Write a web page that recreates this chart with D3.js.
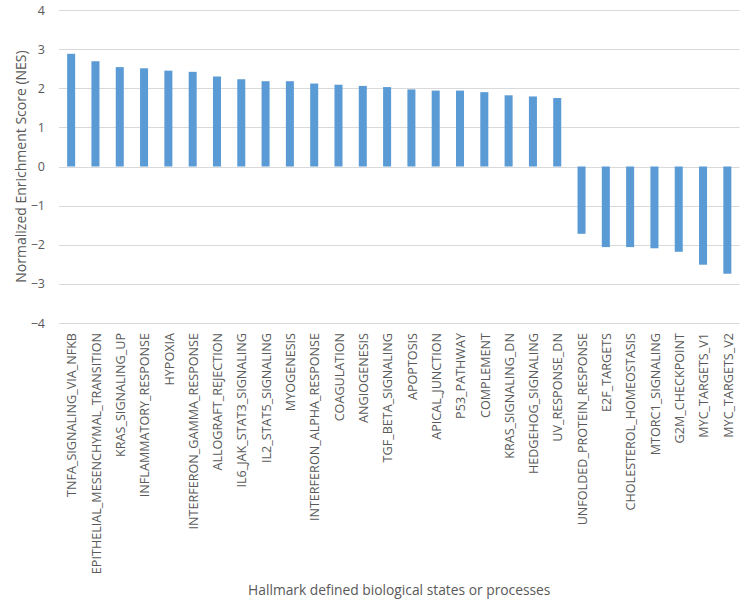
<!DOCTYPE html>
<html>
<head>
<meta charset="utf-8">
<script src="https://cdn.jsdelivr.net/npm/d3@7"></script>
<style>
  html, body { margin: 0; padding: 0; background: #fff; }
  svg { display: block; }
  text { font-family: "Open Sans", "Noto Sans", sans-serif; fill: #595959; }
</style>
</head>
<body>
<svg id="chart" width="742" height="608"></svg>
<script>
// Hallmark gene sets and their normalized enrichment scores
const pathways = [
  "TNFA_SIGNALING_VIA_NFKB", "EPITHELIAL_MESENCHYMAL_TRANSITION", "KRAS_SIGNALING_UP",
  "INFLAMMATORY_RESPONSE", "HYPOXIA", "INTERFERON_GAMMA_RESPONSE", "ALLOGRAFT_REJECTION",
  "IL6_JAK_STAT3_SIGNALING", "IL2_STAT5_SIGNALING", "MYOGENESIS", "INTERFERON_ALPHA_RESPONSE",
  "COAGULATION", "ANGIOGENESIS", "TGF_BETA_SIGNALING", "APOPTOSIS", "APICAL_JUNCTION",
  "P53_PATHWAY", "COMPLEMENT", "KRAS_SIGNALING_DN", "HEDGEHOG_SIGNALING", "UV_RESPONSE_DN",
  "UNFOLDED_PROTEIN_RESPONSE", "E2F_TARGETS", "CHOLESTEROL_HOMEOSTASIS", "MTORC1_SIGNALING",
  "G2M_CHECKPOINT", "MYC_TARGETS_V1", "MYC_TARGETS_V2"
];
const nes = [
  2.88, 2.69, 2.54, 2.51, 2.45, 2.42, 2.30, 2.23, 2.18, 2.18, 2.12, 2.09, 2.06, 2.03,
  1.97, 1.94, 1.94, 1.90, 1.82, 1.79, 1.75,
  -1.72, -2.06, -2.06, -2.09, -2.18, -2.51, -2.74
];
const yTicks = [-4, -3, -2, -1, 0, 1, 2, 3, 4];
const yTitle = "Normalized Enrichment Score (NES)";
const xTitle = "Hallmark defined biological states or processes";

const svg = d3.select("#chart");
const plot = { left: 59, right: 739.5, top: 10, bottom: 323 };

const x = d3.scaleBand()
  .domain(pathways)
  .range([plot.left, plot.right])
  .paddingInner(0.67)
  .paddingOuter(0.335);

const y = d3.scaleLinear()
  .domain([-4, 4])
  .range([plot.bottom, plot.top]);

// Horizontal gridlines
svg.append("g")
  .selectAll("line")
  .data(yTicks)
  .join("line")
  .attr("x1", plot.left)
  .attr("x2", plot.right)
  .attr("y1", d => Math.round(y(d)) + 0.5)
  .attr("y2", d => Math.round(y(d)) + 0.5)
  .attr("stroke", "#d9d9d9")
  .attr("stroke-width", 1);

// Y axis tick labels
const yAxis = d3.axisLeft(y).tickValues(yTicks).tickSize(0).tickPadding(0).tickFormat(d3.format("d"));
const gy = svg.append("g").attr("transform", `translate(${plot.left - 14},0)`).call(yAxis);
gy.select(".domain").remove();
gy.selectAll("text")
  .attr("font-size", 12.5)
  .attr("fill", "#595959")
  .style("font-family", "'Open Sans', 'Noto Sans', sans-serif");

// Bars
svg.append("g")
  .selectAll("rect")
  .data(pathways)
  .join("rect")
  .attr("x", (d) => x(d))
  .attr("width", x.bandwidth())
  .attr("y", (d, i) => y(Math.max(0, nes[i])))
  .attr("height", (d, i) => Math.abs(y(nes[i]) - y(0)))
  .attr("fill", "#5b9bd5");

// Category labels, rotated
svg.append("g")
  .selectAll("text")
  .data(pathways)
  .join("text")
  .attr("transform", d => `translate(${x(d) + x.bandwidth() / 2 + 5.2},${plot.bottom + 10}) rotate(-90)`)
  .attr("text-anchor", "end")
  .attr("font-size", 12.6)
  .text(d => d);

// Axis titles
svg.append("text")
  .attr("transform", `translate(26,${(plot.top + plot.bottom) / 2}) rotate(-90)`)
  .attr("text-anchor", "middle")
  .attr("font-size", 14)
  .text(yTitle);

svg.append("text")
  .attr("x", (plot.left + plot.right) / 2)
  .attr("y", 595)
  .attr("text-anchor", "middle")
  .attr("font-size", 13.8)
  .text(xTitle);
</script>
</body>
</html>
